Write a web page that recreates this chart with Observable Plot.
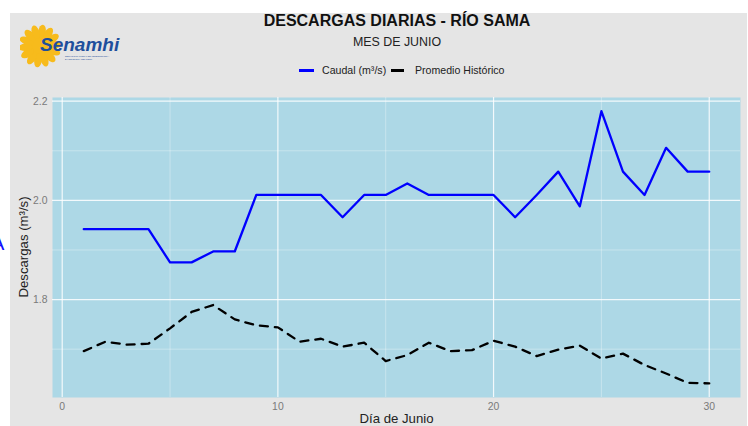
<!DOCTYPE html>
<html>
<head>
<meta charset="utf-8">
<script src="https://cdn.jsdelivr.net/npm/d3@7"></script>
<script src="https://cdn.jsdelivr.net/npm/@observablehq/plot@0.6"></script>
<style>
  body { margin: 0; background: #fff; font-family: "Liberation Sans", Arial, sans-serif; }
  #wrap { position: relative; width: 748px; height: 426px; overflow: hidden; background: #fff; }
  #bg { position: absolute; left: 10px; top: 13px; width: 737px; height: 413px; background: #e5e5e5; }
  #chart { position: absolute; left: 0; top: 0; }
  .abs { position: absolute; white-space: nowrap; }
  #title { left: 0; width: 794px; top: 12px; text-align: center; font-weight: bold; font-size: 16px; color: #111; }
  #subtitle { left: 0; width: 794px; top: 35px; text-align: center; font-size: 12.4px; color: #222; }
  .legtxt { font-size: 10.6px; color: #222; top: 63.5px; }
  .key { height: 3px; top: 68.5px; }
  #ylab { left: 23px; top: 247px; transform: translate(-50%, -50%) rotate(-90deg); font-size: 13.2px; color: #222; }
  #xlab { left: 0; width: 793px; top: 411px; text-align: center; font-size: 13.2px; color: #222; }
</style>
</head>
<body>
<div id="wrap">
  <div id="bg"></div>
  <div id="chart"></div>
  <div class="abs" style="left:-9px; top:232px; font-size:20px; color:#1010ff;">A</div>
  <svg class="abs" style="left:20px; top:22px;" width="110" height="50" viewBox="0 0 110 50">
    <g transform="translate(20,24)" fill="#f7bb1c">
      <circle r="12"/>
      <g id="rays"></g>
    </g>
    <text x="20" y="29" font-family="Liberation Sans, Arial" font-weight="bold" font-style="italic" font-size="19" fill="#1e4f9c">Senamhi</text>
    <text x="45" y="35" font-family="Liberation Sans, Arial" font-size="2.2" fill="#1e4f9c">SERVICIO NACIONAL DE METEOROLOGÍA</text>
    <text x="45" y="38" font-family="Liberation Sans, Arial" font-size="2.2" fill="#1e4f9c">E HIDROLOGÍA DEL PERÚ</text>
  </svg>
  <div id="title" class="abs">DESCARGAS DIARIAS - RÍO SAMA</div>
  <div id="subtitle" class="abs">MES DE JUNIO</div>
  <div class="abs key" style="left:299px; width:15px; background:#0000ff;"></div>
  <div class="abs legtxt" style="left:322px;">Caudal (m³/s)</div>
  <div class="abs key" style="left:391px; width:13px; background:#000;"></div>
  <div class="abs legtxt" style="left:415px;">Promedio Histórico</div>
  <div id="ylab" class="abs">Descargas (m³/s)</div>
  <div id="xlab" class="abs">Día de Junio</div>
</div>
<script>
// ---- data ----
const days = d3.range(1, 31);
const caudal = [1.942, 1.942, 1.942, 1.942, 1.875, 1.875, 1.897, 1.897, 2.011, 2.011,
                2.011, 2.011, 1.966, 2.011, 2.011, 2.034, 2.011, 2.011, 2.011, 2.011,
                1.966, 2.011, 2.058, 1.988, 2.180, 2.058, 2.011, 2.106, 2.058, 2.058];
const promedio = [1.696, 1.715, 1.709, 1.711, 1.742, 1.775, 1.789, 1.760, 1.748, 1.744,
                  1.715, 1.721, 1.705, 1.713, 1.676, 1.688, 1.713, 1.696, 1.698, 1.717,
                  1.705, 1.686, 1.699, 1.707, 1.681, 1.691, 1.668, 1.651, 1.632, 1.631];
const xTicks = [0, 10, 20, 30];
const xMinor = [5, 15, 25];
const yTicks = [1.8, 2.0, 2.2];
const yMinor = [1.7, 1.9, 2.1];

// sun rays for logo (decorative)
const rays = document.getElementById("rays");
for (let i = 0; i < 14; i++) {
  const a = i / 14 * 360 + 8;
  const p = document.createElementNS("http://www.w3.org/2000/svg", "ellipse");
  p.setAttribute("cx", 0); p.setAttribute("cy", -14.5); p.setAttribute("rx", 3.8); p.setAttribute("ry", 7);
  p.setAttribute("transform", `rotate(${a})`);
  rays.appendChild(p);
}

const rowsC = days.map((d, i) => ({day: d, v: caudal[i]}));
const rowsP = days.map((d, i) => ({day: d, v: promedio[i]}));

const chart = Plot.plot({
  width: 748,
  height: 426,
  marginLeft: 52,
  marginRight: 8,
  marginTop: 97,
  marginBottom: 29,
  style: {background: "transparent", fontFamily: "Liberation Sans, Arial, sans-serif"},
  x: {domain: [-0.45, 31.45]},
  y: {domain: [1.6025, 2.2075]},
  marks: [
    Plot.frame({fill: "#add8e6", stroke: null}),
    Plot.ruleY(yMinor, {stroke: "#ffffff", strokeWidth: 0.6, strokeOpacity: 0.55}),
    Plot.ruleX(xMinor, {stroke: "#ffffff", strokeWidth: 0.6, strokeOpacity: 0.55}),
    Plot.ruleY(yTicks, {stroke: "#ffffff", strokeWidth: 1.2, strokeOpacity: 0.85}),
    Plot.ruleX(xTicks, {stroke: "#ffffff", strokeWidth: 1.2, strokeOpacity: 0.85}),
    Plot.line(rowsP, {x: "day", y: "v", stroke: "#000", strokeWidth: 2.3, strokeDasharray: "8,7"}),
    Plot.line(rowsC, {x: "day", y: "v", stroke: "#0000ff", strokeWidth: 2.3}),
    Plot.axisY(yTicks, {tickSize: 0, tickPadding: 5, fontSize: 10.4, fill: "#7a7a7a", label: null, tickFormat: d3.format(".1f")}),
    Plot.axisX(xTicks, {tickSize: 0, tickPadding: 5, fontSize: 10.4, fill: "#7a7a7a", label: null})
  ]
});
document.getElementById("chart").appendChild(chart);
</script>
</body>
</html>
